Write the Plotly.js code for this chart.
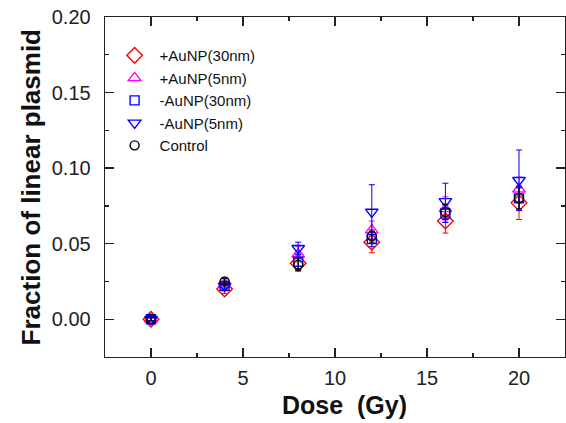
<!DOCTYPE html>
<html><head><meta charset="utf-8">
<script src="https://cdn.plot.ly/plotly-3.0.1.min.js"></script>
<style>html,body{margin:0;padding:0;background:#fff}#plot{width:566px;height:423px}</style>
</head><body><div id="plot"></div>
<script>
const dose = [0, 4, 8, 12, 16, 20];
const seriesNames = ["+AuNP(30nm)", "+AuNP(5nm)", "-AuNP(30nm)", "-AuNP(5nm)", "Control"];
const auPlus30 = [0, 0.020, 0.037, 0.051, 0.065, 0.077];
const auPlus30Err = [0.001, 0.003, 0.005, 0.007, 0.008, 0.011];
const auPlus5 = [0, 0.023, 0.043, 0.059, 0.073, 0.086];
const auPlus5Err = [0.001, 0.003, 0.005, 0.006, 0.008, 0.008];
const auMinus30 = [0, 0.022, 0.038, 0.053, 0.070, 0.080];
const auMinus30Err = [0.001, 0.002, 0.005, 0.005, 0.006, 0.008];
const auMinus5 = [0, 0.022, 0.047, 0.071, 0.078, 0.092];
const auMinus5Err = [0.001, 0.003, 0.004, 0.018, 0.012, 0.020];
const control = [0, 0.025, 0.036, 0.055, 0.071, 0.080];
const controlErr = [0.001, 0.002, 0.004, 0.004, 0.005, 0.007];
const xTicks = [0, 5, 10, 15, 20];
const yTicks = [0, 0.05, 0.10, 0.15, 0.20];
const yTickText = ["0.00", "0.05", "0.10", "0.15", "0.20"];
const xTitle = "Dose  (Gy)";
const yTitle = "Fraction of linear plasmid";

const FONT = 'Arial, Liberation Sans, sans-serif';
function tr(name, y, err, color, symbol, size) {
  return {
    x: dose, y: y, name: name, type: 'scatter', mode: 'markers',
    marker: {symbol: symbol, size: size, color: color, line: {color: color, width: 1.4}},
    error_y: {type: 'data', array: err, visible: true, color: color, thickness: 1, width: 3},
    cliponaxis: false
  };
}
const data = [
  tr(seriesNames[0], auPlus30, auPlus30Err, '#ff0000', 'diamond-open', 12),
  tr(seriesNames[1], auPlus5, auPlus5Err, '#ff00ff', 'triangle-up-open', 11),
  tr(seriesNames[2], auMinus30, auMinus30Err, '#0000ff', 'square-open', 9),
  tr(seriesNames[3], auMinus5, auMinus5Err, '#0000ff', 'triangle-down-open', 11),
  tr(seriesNames[4], control, controlErr, '#000000', 'circle-open', 9)
];
const axisCommon = {
  showline: true, linecolor: '#222', linewidth: 1.3, mirror: 'ticks',
  ticks: 'inside', ticklen: 9, tickwidth: 1.3, tickcolor: '#222',
  showgrid: false, zeroline: false,
  tickfont: {family: FONT, size: 20, color: '#222'}
};
const layout = {
  width: 566, height: 423,
  margin: {l: 105, r: 1, t: 17, b: 66},
  paper_bgcolor: '#fff', plot_bgcolor: '#fff',
  showlegend: true,
  legend: {x: 0.01, y: 0.935, xanchor: 'left', yanchor: 'top', bgcolor: 'rgba(0,0,0,0)',
    font: {family: FONT, size: 15, color: '#111'}, tracegroupgap: 0, itemwidth: 40},
  xaxis: Object.assign({}, axisCommon, {
    range: [-2.5, 22.5], tickvals: xTicks, ticklabelstandoff: 3,
    minor: {tickvals: [-2.5, 2.5, 7.5, 12.5, 17.5, 22.5], ticks: 'inside', ticklen: 4, tickwidth: 1.3, tickcolor: '#222'}
  }),
  yaxis: Object.assign({}, axisCommon, {
    range: [-0.025, 0.2], tickvals: yTicks, ticktext: yTickText, ticklabelstandoff: 9,
    minor: {tickvals: [0.025, 0.075, 0.125, 0.175], ticks: 'inside', ticklen: 4, tickwidth: 1.3, tickcolor: '#222'}
  }),
  annotations: [
    {text: '<b>' + xTitle + '</b>', xref: 'paper', yref: 'paper', x: 0.52, y: -0.097, xanchor: 'center', yanchor: 'top',
      showarrow: false, borderpad: 0, font: {family: FONT, size: 25, color: '#111'}},
    {text: '<b>' + yTitle + '</b>', xref: 'paper', yref: 'paper', x: -0.16, y: 0.5, xanchor: 'center', yanchor: 'middle',
      textangle: -90, showarrow: false, font: {family: FONT, size: 26, color: '#111'}}
  ]
};
Plotly.newPlot('plot', data, layout, {displayModeBar: false, staticPlot: true});
</script></body></html>
